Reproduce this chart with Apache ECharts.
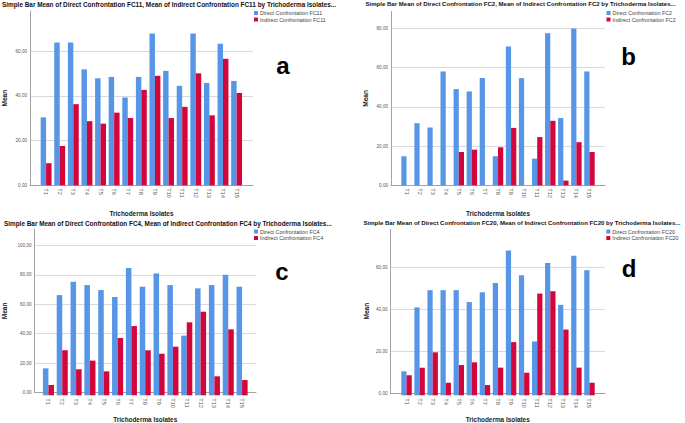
<!DOCTYPE html>
<html>
<head>
<meta charset="utf-8">
<script src="https://cdn.jsdelivr.net/npm/echarts@6/dist/echarts.min.js"></script>
<style>html,body{margin:0;padding:0;background:#fff;}#c{width:685px;height:423px;}</style>
</head>
<body>
<div id="c"></div>
<script>
// ---- data ----
const categories = ['T1','T2','T3','T4','T5','T6','T7','T8','T9','T10','T11','T12','T13','T14','T15'];
const yTicks = [0, 20, 40, 60, 80, 100];

const fc11Direct   = [30.4, 63.9, 63.9, 51.9, 47.9, 48.5, 39.3, 48.5, 67.9, 51.2, 44.5, 67.9, 45.8, 63.3, 46.7];
const fc11Indirect = [9.9, 17.6, 36.3, 28.7, 27.6, 32.5, 30.1, 42.7, 49.0, 30.1, 35.1, 50.1, 31.3, 56.6, 41.3];
const fc2Direct    = [14.8, 31.7, 29.5, 58.1, 49.1, 47.9, 54.7, 14.8, 70.8, 54.7, 13.6, 77.6, 34.3, 80.0, 58.1];
const fc2Indirect  = [0, 0, 0, 0, 17.0, 18.2, 0, 19.4, 29.3, 0, 24.6, 32.9, 2.4, 22.0, 17.0];
const fc4Direct    = [18.0, 67.0, 75.9, 73.7, 70.4, 65.7, 85.1, 72.6, 81.5, 73.7, 39.9, 71.5, 73.7, 80.6, 72.6];
const fc4Indirect  = [6.9, 30.1, 17.4, 23.2, 16.0, 38.3, 46.3, 30.1, 27.8, 32.5, 48.8, 55.9, 12.7, 44.1, 10.2];
const fc20Direct   = [11.3, 41.3, 49.4, 49.4, 49.4, 43.8, 48.4, 52.8, 68.0, 56.4, 25.3, 62.2, 42.5, 65.6, 58.8];
const fc20Indirect = [9.4, 13.0, 20.2, 5.9, 14.2, 15.5, 4.8, 13.0, 25.0, 10.6, 47.8, 48.9, 30.9, 13.0, 5.9];

const panelCodes = ['FC11', 'FC2', 'FC4', 'FC20'];
const panelLetters = ['a', 'b', 'c', 'd'];
const directSets = [fc11Direct, fc2Direct, fc4Direct, fc20Direct];
const indirectSets = [fc11Indirect, fc2Indirect, fc4Indirect, fc20Indirect];
const axisMax = [78, 88.7, 111, 78];

// ---- layout (pixels) ----
const layout = [
  {fl: 29.5, fr: 253, t: 11,  b: 185.3, bl: 39.3, br: 243.4, lg: [254, 10.5],  let: [283, 65],  ti: [2, 5],      tf: 6.4, yn: 22,   xn: 25},
  {fl: 391,  fr: 605, t: 11.5,b: 185.3, bl: 400,  br: 596,   lg: [606.5, 10.5], let: [628.5, 56], ti: [365.5, 5], tf: 6.05, yn: 22,   xn: 25},
  {fl: 34,   fr: 256, t: 229.3,b: 395.3,bl: 41.5, br: 249,   lg: [254, 229],   let: [282, 271], ti: [4, 224.3],  tf: 6.4, yn: 26.5, xn: 23.5},
  {fl: 390.5,fr: 605, t: 229.3,b: 395.3,bl: 400,  br: 596,   lg: [606.3, 229], let: [629, 268], ti: [363.5, 224.3], tf: 6.05, yn: 21, xn: 23}
];

const BLUE = '#5795e6';
const RED = '#d3063b';
const W = 685, H = 423;

const grids = [], xAxes = [], yAxes = [], series = [], legends = [], graphics = [];
const fmt = v => v.toFixed(2).replace('.', ',');

layout.forEach((L, i) => {
  const code = panelCodes[i];
  const dName = 'Direct Confrontation ' + code;
  const iName = 'Indirect Confrontation ' + code;
  const M = axisMax[i];
  grids.push({left: L.fl, top: L.t, width: L.fr - L.fl, height: L.b - L.t, containLabel: false});
  grids.push({left: L.bl, top: L.t, width: L.br - L.bl, height: L.b - L.t, containLabel: false});
  const fIdx = 2 * i, bIdx = 2 * i + 1;
  xAxes.push({
    gridIndex: fIdx, type: 'value', min: 0, max: 1,
    axisLine: {show: true, lineStyle: {color: '#a3a3a3', width: 1}},
    axisTick: {show: false}, axisLabel: {show: false}, splitLine: {show: false},
    name: 'Trichoderma Isolates', nameLocation: 'middle', nameGap: L.xn,
    nameTextStyle: {fontFamily: 'Liberation Sans', fontWeight: 'bold', fontSize: 6.4, color: '#222'}
  });
  yAxes.push({
    gridIndex: fIdx, type: 'value', min: 0, max: M, interval: 20,
    axisLine: {show: true, lineStyle: {color: '#a3a3a3', width: 1}},
    axisTick: {show: false},
    axisLabel: {show: true, showMaxLabel: false, formatter: v => (yTicks.indexOf(v) >= 0 ? fmt(v) : ''),
      fontFamily: 'Liberation Sans', fontSize: 4.6, color: '#555', margin: 3},
    splitLine: {show: true, showMaxLine: false, showMinLine: false, lineStyle: {color: '#dadada', width: 1}},
    name: 'Mean', nameLocation: 'middle', nameGap: L.yn, nameRotate: 90,
    nameTextStyle: {fontFamily: 'Liberation Sans', fontWeight: 'bold', fontSize: 6.6, color: '#222'}
  });
  xAxes.push({
    gridIndex: bIdx, type: 'category', data: categories,
    axisLine: {show: false}, axisTick: {show: false}, splitLine: {show: false},
    axisLabel: {interval: 0, rotate: -90, fontFamily: 'Liberation Sans', fontSize: 5.6, color: '#555', margin: 3}
  });
  yAxes.push({gridIndex: bIdx, type: 'value', min: 0, max: M, show: false, splitLine: {show: false}});
  series.push({
    type: 'bar', name: dName, xAxisIndex: bIdx, yAxisIndex: bIdx, data: directSets[i],
    barGap: '0%', barCategoryGap: '20%', itemStyle: {color: BLUE}, silent: true, animation: false
  });
  series.push({
    type: 'bar', name: iName, xAxisIndex: bIdx, yAxisIndex: bIdx, data: indirectSets[i],
    barGap: '0%', barCategoryGap: '20%', itemStyle: {color: RED}, silent: true, animation: false
  });
  legends.push({
    data: [dName, iName], orient: 'vertical', left: L.lg[0], top: L.lg[1], padding: 0,
    itemWidth: 4, itemHeight: 4, itemGap: 1.5, icon: 'rect', selectedMode: false,
    textStyle: {fontFamily: 'Liberation Sans', fontSize: 5.4, color: '#444', padding: [0, 0, 0, -3]}
  });
  graphics.push({
    type: 'text', left: L.ti[0], top: L.ti[1] - 4,
    style: {text: 'Simple Bar Mean of ' + dName + ', Mean of ' + iName + ' by Trichoderma Isolates...',
      fontFamily: 'Liberation Sans', fontWeight: 'bold', fontSize: L.tf, fill: '#111'}
  });
  graphics.push({
    type: 'text', x: L.let[0], y: L.let[1],
    style: {text: panelLetters[i], fontFamily: 'Liberation Sans', fontWeight: 'bold', fontSize: 24,
      fill: '#000', align: 'center', verticalAlign: 'middle'}
  });
});

const chart = echarts.init(document.getElementById('c'), null, {renderer: 'svg', width: W, height: H});
chart.setOption({
  animation: false,
  backgroundColor: '#fff',
  grid: grids, xAxis: xAxes, yAxis: yAxes, series: series, legend: legends,
  graphic: graphics
});
</script>
</body>
</html>
